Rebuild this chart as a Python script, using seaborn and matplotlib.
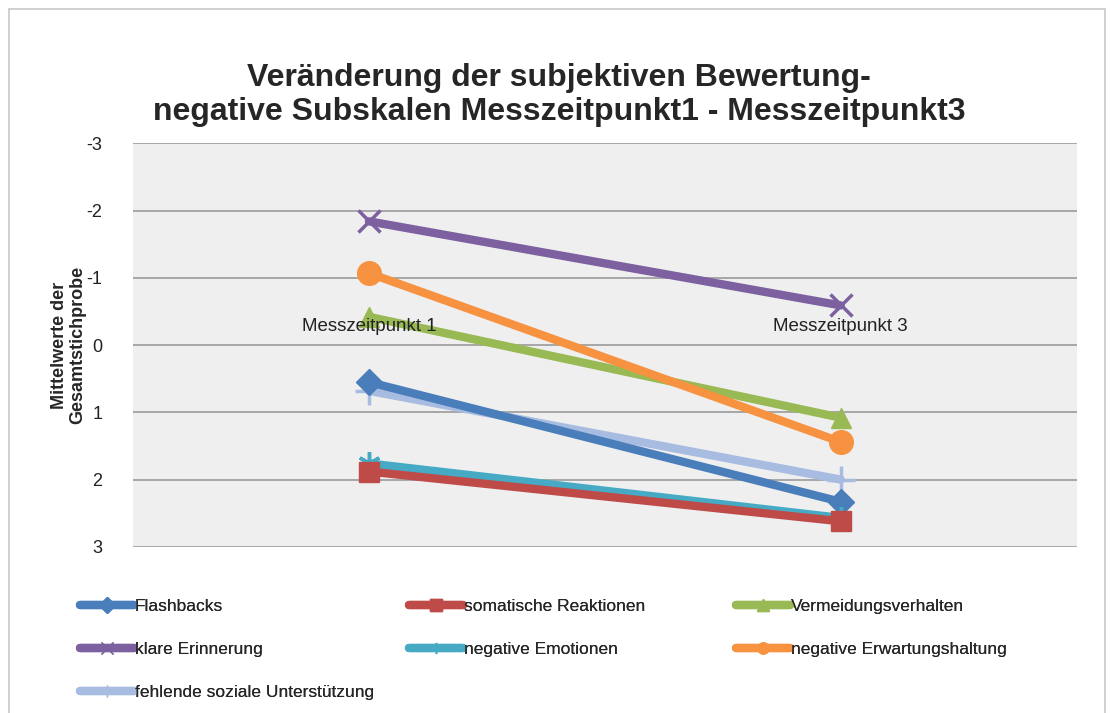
import pandas as pd
import numpy as np
import matplotlib.pyplot as plt
import seaborn as sns
from matplotlib.lines import Line2D
from matplotlib.patches import Rectangle

# data
zeitpunkte = ["Messzeitpunkt 1", "Messzeitpunkt 3"]
skalen = ["Flashbacks", "somatische Reaktionen", "Vermeidungsverhalten",
          "klare Erinnerung", "negative Emotionen", "negative Erwartungshaltung",
          "fehlende soziale Unterstützung"]
mz1 = [0.55, 1.88, -0.42, -1.84, 1.76, -1.07, 0.68]
mz3 = [2.33, 2.62, 1.08, -0.59, 2.57, 1.44, 2.0]

farben = ["#4A7EBB", "#BE4B48", "#98B954", "#7D60A0", "#46AAC5", "#F69240", "#A7BCE0"]
marker = ["D", "s", "^", "x", (6, 2, 0), "o", "+"]
msize = [13, 14, 14, 16, 16, 17, 20]

rows = []
for i, s in enumerate(skalen):
    rows.append({"Skala": s, "Zeitpunkt": 0, "Wert": mz1[i]})
    rows.append({"Skala": s, "Zeitpunkt": 1, "Wert": mz3[i]})
df = pd.DataFrame(rows)

sns.set_style("white")
plt.rcParams["font.family"] = ["Liberation Sans", "DejaVu Sans"]

fig = plt.figure(figsize=(11.18, 7.13), dpi=100)
ax = fig.add_axes([0.119, 0.233, 0.844, 0.566])
ax.set_facecolor("#EFEFEF")

# draw order so lines overlap roughly like in the original
order = [6, 0, 4, 1, 2, 5, 3]
for i in order:
    sub = df[df["Skala"] == skalen[i]]
    sns.lineplot(data=sub, x="Zeitpunkt", y="Wert", ax=ax, color=farben[i],
                 linewidth=6, marker=marker[i], markersize=msize[i],
                 markeredgewidth=2.5 if marker[i] in ("x", "+") or isinstance(marker[i], tuple) else 1,
                 markeredgecolor=farben[i], legend=False, zorder=3)

ax.set_xlim(-0.5, 1.5)
ax.set_ylim(3, -3)
ax.set_yticks(np.arange(-3, 4, 1))
ax.set_yticklabels([str(v) for v in range(-3, 4)], fontsize=13, color="#222222")
ax.set_xticks([])
ax.set_xlabel("")
ax.set_ylabel("Mittelwerte der\nGesamtstichprobe", fontsize=13, fontweight="bold",
              labelpad=0, linespacing=1.1)
ax.yaxis.grid(True, color="#9A9A9A", linewidth=1.2, zorder=0)
ax.set_axisbelow(True)
for sp in ax.spines.values():
    sp.set_visible(False)
ax.tick_params(axis="y", length=0, pad=22)

# category labels sitting on the zero line
for k, z in enumerate(zeitpunkte):
    ax.text(k, -0.28, z, ha="center", va="center", fontsize=13.5, color="#222222", zorder=5)

fig.text(0.5, 0.867, "Veränderung der subjektiven Bewertung-\nnegative Subskalen Messzeitpunkt1 - Messzeitpunkt3",
         ha="center", va="center", fontsize=23, fontweight="bold", linespacing=1.18)

# legend in three columns, filled row-wise
spalten_x = [0.064, 0.358, 0.651]
for c in range(3):
    idx = [i for i in range(len(skalen)) if i % 3 == c]
    handles = [Line2D([], [], color=farben[i], linewidth=6, marker=marker[i],
                      markersize=8, markeredgecolor=farben[i]) for i in idx]
    leg = fig.legend(handles, [skalen[i] for i in idx], loc="upper left",
                     bbox_to_anchor=(spalten_x[c], 0.172), frameon=False, fontsize=12.5,
                     handlelength=3.1, handletextpad=0.05, labelspacing=1.6, borderpad=0)
    fig.add_artist(leg)

fig.patches.append(Rectangle((0.008, -0.01), 0.98, 0.998, transform=fig.transFigure,
                             fill=False, edgecolor="#C8C8C8", linewidth=1.2))

fig.savefig("out.png", dpi=100, facecolor="white")
